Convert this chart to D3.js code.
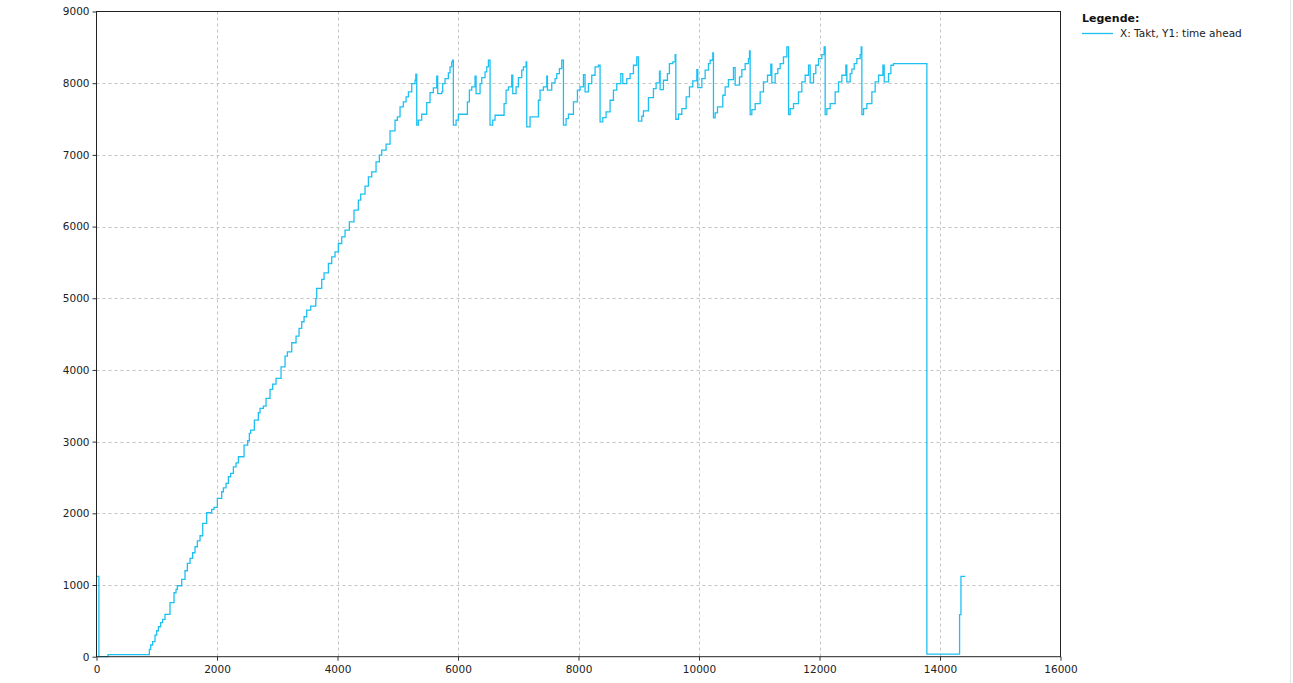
<!DOCTYPE html>
<html>
<head>
<meta charset="utf-8">
<script src="https://cdn.jsdelivr.net/npm/d3@7"></script>
<style>
  html, body { margin: 0; padding: 0; background: #ffffff; }
  svg { display: block; }
</style>
</head>
<body>
<svg id="chart" width="1293" height="683"></svg>
<script>
// ---- data: [Takt, time ahead] ----
const xTicks = [0, 2000, 4000, 6000, 8000, 10000, 12000, 14000, 16000];
const yTicks = [0, 1000, 2000, 3000, 4000, 5000, 6000, 7000, 8000, 9000];
const legendTitle = "Legende:";
const seriesName = "X: Takt, Y1: time ahead";

const startPhase = [
  [0, 1120], [40, 0], [190, 28]
];
const rampPhase = [
  [877, 102], [899, 163], [932, 209], [971, 302], [999, 362], [1027, 418], [1065, 474],
  [1098, 521], [1137, 590], [1220, 753], [1287, 892], [1320, 939], [1342, 990], [1414, 1078],
  [1469, 1199], [1508, 1301], [1552, 1371], [1596, 1450], [1635, 1534], [1674, 1617],
  [1718, 1687], [1763, 1859], [1829, 2008], [1912, 2054], [1951, 2082], [2006, 2208],
  [2078, 2301], [2106, 2356], [2150, 2417], [2189, 2510], [2227, 2556], [2272, 2649],
  [2316, 2705], [2355, 2789], [2449, 2952], [2509, 3012], [2537, 3115], [2559, 3161],
  [2620, 3301], [2686, 3403], [2714, 3463], [2769, 3496], [2814, 3603], [2880, 3728],
  [2924, 3803], [2980, 3882], [3063, 4044], [3129, 4193], [3168, 4253], [3240, 4379],
  [3312, 4472], [3362, 4579], [3406, 4672], [3445, 4742], [3489, 4835], [3555, 4890],
  [3640, 4997], [3655, 5137], [3738, 5262], [3777, 5355], [3849, 5485], [3904, 5578],
  [3959, 5648], [4014, 5764], [4070, 5857], [4125, 5950], [4197, 6066], [4274, 6229],
  [4346, 6368], [4385, 6452], [4457, 6563], [4513, 6693], [4568, 6763], [4640, 6902],
  [4695, 6996], [4734, 7065], [4806, 7149], [4872, 7335], [4955, 7483], [4994, 7530],
  [5038, 7669], [5093, 7739], [5138, 7809], [5177, 7879], [5232, 7995], [5287, 8041],
  [5300, 8125]
];
const cyclePhase = [
  // cycle A
  [5315, 7414], [5342, 7484], [5398, 7567], [5481, 7730], [5536, 7869], [5591, 7934],
  [5647, 8097], [5663, 7855], [5730, 7879], [5746, 7995], [5785, 8064], [5840, 8143],
  [5868, 8227], [5896, 8297], [5912, 8320],
  // cycle B
  [5923, 7414], [5968, 7484], [6006, 7567], [6156, 7739], [6189, 7902], [6228, 7948],
  [6283, 8097], [6300, 7855], [6366, 7995], [6394, 8078], [6449, 8157], [6477, 8227],
  [6505, 8320],
  // cycle C
  [6532, 7414], [6576, 7484], [6615, 7553], [6765, 7716], [6798, 7902], [6837, 7948],
  [6892, 8111], [6909, 7855], [6964, 7948], [7003, 8078], [7058, 8181], [7086, 8227],
  [7130, 8297],
  // cycle D
  [7141, 7391], [7196, 7530], [7335, 7762], [7362, 7902], [7418, 7948], [7473, 8097],
  [7484, 7902], [7556, 8004], [7611, 8064], [7639, 8134], [7683, 8204], [7722, 8320],
  // cycle E
  [7750, 7414], [7794, 7507], [7833, 7567], [7916, 7739], [7982, 7902], [8026, 7948],
  [8082, 8120], [8109, 7879], [8165, 7995], [8220, 8111], [8275, 8227], [8331, 8250],
  // cycle F
  [8358, 7460], [8403, 7521], [8458, 7600], [8524, 7762], [8580, 7902], [8635, 7995],
  [8702, 8134], [8735, 7995], [8801, 8064], [8857, 8134], [8912, 8250], [8967, 8367],
  // cycle G
  [8995, 7470], [9050, 7539], [9078, 7614], [9161, 7800], [9244, 7925], [9288, 8004],
  [9344, 8167], [9355, 7911], [9410, 8041], [9476, 8134], [9509, 8274], [9565, 8297],
  [9604, 8399],
  // cycle H
  [9615, 7497], [9659, 7567], [9715, 7646], [9787, 7809], [9842, 7948], [9897, 8032],
  [9964, 8190], [9980, 7939], [10047, 8064], [10102, 8181], [10157, 8274], [10185, 8320],
  [10229, 8422],
  // cycle I
  [10240, 7516], [10268, 7586], [10307, 7670], [10395, 7832], [10434, 7948], [10489, 8051],
  [10572, 8218], [10600, 7972], [10672, 8088], [10711, 8190], [10766, 8274], [10821, 8343],
  [10838, 8450],
  // cycle J
  [10849, 7562], [10877, 7632], [10932, 7716], [11015, 7879], [11070, 8018], [11137, 8111],
  [11192, 8264], [11209, 8004], [11264, 8134], [11308, 8204], [11347, 8274], [11402, 8367],
  [11458, 8506],
  // cycle K
  [11486, 7562], [11513, 7646], [11569, 7716], [11651, 7879], [11707, 8018], [11762, 8111],
  [11818, 8250], [11845, 8004], [11901, 8134], [11939, 8250], [11984, 8343], [12039, 8399],
  [12078, 8506],
  // cycle L
  [12094, 7562], [12122, 7646], [12177, 7716], [12260, 7879], [12316, 8018], [12371, 8111],
  [12437, 8250], [12454, 8018], [12509, 8134], [12537, 8195], [12576, 8274], [12620, 8343],
  [12675, 8399], [12692, 8506],
  // cycle M
  [12703, 7562], [12731, 7646], [12786, 7716], [12869, 7879], [12924, 8018], [12980, 8111],
  [13052, 8250], [13074, 8018], [13146, 8134], [13185, 8250], [13229, 8274]
];
const endPhase = [
  [13782, 35], [14325, 586], [14348, 1120], [14420, 1120]
];

// ---- layout ----
const svg = d3.select("#chart");
const plotLeft = 96.5, plotRight = 1060.5, plotTop = 11.5, plotBottom = 656.7;
const x = d3.scaleLinear().domain([0, 16000]).range([plotLeft, plotRight]);
const y = d3.scaleLinear().domain([0, 9000]).range([plotBottom, plotTop]);

const gridColor = "#c4c4c4";
const lineColor = "#1ec0f2";
const font = "DejaVu Sans, Verdana, sans-serif";

// grid
const grid = svg.append("g");
grid.selectAll("line.gx").data(xTicks.slice(1, -1)).join("line")
  .attr("x1", d => Math.round(x(d)) + 0.5).attr("x2", d => Math.round(x(d)) + 0.5)
  .attr("y1", plotTop).attr("y2", plotBottom)
  .attr("stroke", gridColor).attr("stroke-width", 1).attr("stroke-dasharray", "3,3");
grid.selectAll("line.gy").data(yTicks.slice(1, -1)).join("line")
  .attr("y1", d => Math.round(y(d)) + 0.5).attr("y2", d => Math.round(y(d)) + 0.5)
  .attr("x1", plotLeft).attr("x2", plotRight)
  .attr("stroke", gridColor).attr("stroke-width", 1).attr("stroke-dasharray", "3,3");

// axes
const xAxis = d3.axisBottom(x).tickValues(xTicks).tickSize(4).tickPadding(5).tickFormat(d3.format("d"));
const yAxis = d3.axisLeft(y).tickValues(yTicks).tickSize(4).tickPadding(3).tickFormat(d3.format("d"));
const gx = svg.append("g").attr("transform", `translate(0,${plotBottom})`).call(xAxis);
const gy = svg.append("g").attr("transform", `translate(${plotLeft},0)`).call(yAxis);
[gx, gy].forEach(g => {
  g.select(".domain").remove();
  g.selectAll(".tick line").attr("stroke", "#333");
  g.selectAll(".tick text").attr("fill", "#222").style("font-family", font).style("font-size", "10.5px");
});

// series line
const allPoints = startPhase.concat(rampPhase, cyclePhase, endPhase);
const line = d3.line().x(d => x(d[0])).y(d => y(d[1])).curve(d3.curveStepAfter);
svg.append("path").datum(allPoints)
  .attr("d", line).attr("fill", "none")
  .attr("stroke", lineColor).attr("stroke-width", 1.3);

// frame
svg.append("rect").attr("x", plotLeft).attr("y", plotTop)
  .attr("width", plotRight - plotLeft).attr("height", plotBottom - plotTop)
  .attr("fill", "none").attr("stroke", "#222").attr("stroke-width", 1);

// legend
svg.append("text").attr("x", 1082).attr("y", 22).text(legendTitle)
  .style("font-family", font).style("font-size", "11px").style("font-weight", "bold").attr("fill", "#111");
svg.append("line").attr("x1", 1082).attr("x2", 1113).attr("y1", 33.5).attr("y2", 33.5)
  .attr("stroke", lineColor).attr("stroke-width", 1.3);
svg.append("text").attr("x", 1120).attr("y", 37).text(seriesName)
  .style("font-family", font).style("font-size", "10.5px").attr("fill", "#222");

// right border of panel
svg.append("line").attr("x1", 1290.5).attr("x2", 1290.5).attr("y1", 0).attr("y2", 683)
  .attr("stroke", "#e6e6e6").attr("stroke-width", 1);
</script>
</body>
</html>
